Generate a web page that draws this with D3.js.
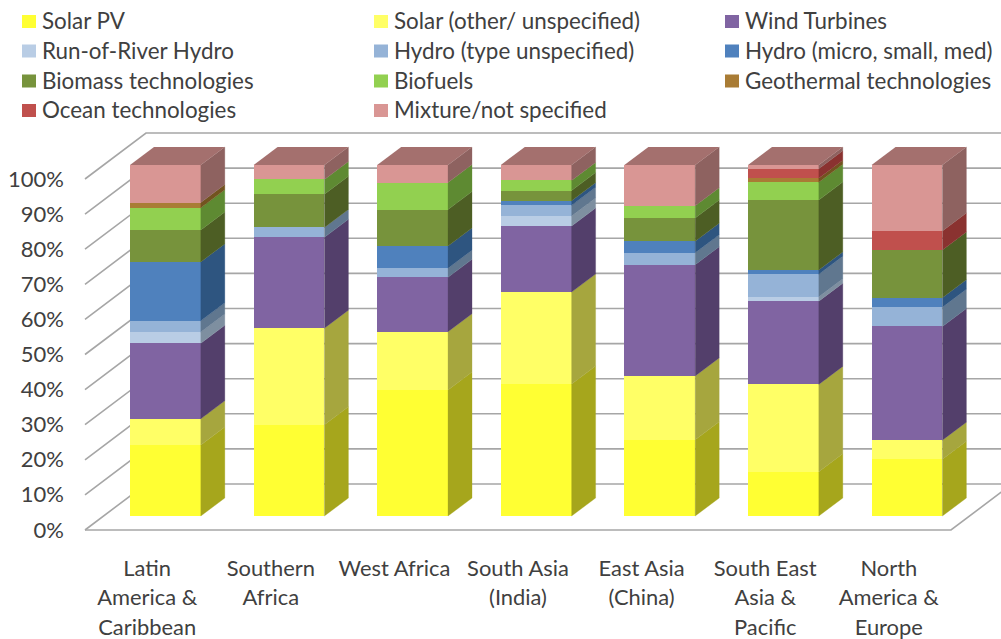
<!DOCTYPE html>
<html>
<head>
<meta charset="utf-8">
<script src="https://cdn.jsdelivr.net/npm/d3@7/dist/d3.min.js"></script>
<style>
  html, body { margin: 0; padding: 0; background: #fff; }
  svg { display: block; }
  text { font-family: Lato, "Open Sans", sans-serif; fill: #404040; }
</style>
</head>
<body>
<svg id="chart" width="1001" height="639"></svg>
<script>
// Regions along the horizontal axis; each entry is one line of its label.
const regions = [
  ["Latin", "America &", "Caribbean"],
  ["Southern", "Africa"],
  ["West Africa"],
  ["South Asia", "(India)"],
  ["East Asia", "(China)"],
  ["South East", "Asia &", "Pacific"],
  ["North", "America &", "Europe"]
];

// Technology names, bottom of the stack first.
const technologies = [
  "Solar PV", "Solar (other/ unspecified)", "Wind Turbines",
  "Run-of-River Hydro", "Hydro (type unspecified)", "Hydro (micro, small, med)",
  "Biomass technologies", "Biofuels", "Geothermal technologies",
  "Ocean technologies", "Mixture/not specified"
];

// Share of each technology per region, in percent.
const solarPV      = [20.2, 26.0, 35.9, 37.6, 21.7, 12.6, 16.2];
const solarOther   = [ 7.5, 27.5, 16.6, 26.2, 18.2, 24.9,  5.4];
const wind         = [21.5, 25.9, 15.5, 18.8, 31.7, 23.7, 32.4];
const runOfRiver   = [ 3.2,  0.0,  0.0,  2.9,  0.0,  1.3,  0.0];
const hydroType    = [ 3.2,  2.8,  2.6,  3.0,  3.4,  6.4,  5.5];
const hydroMicro   = [16.8,  0.0,  6.3,  1.3,  3.3,  1.2,  2.7];
const biomass      = [ 9.1,  9.5, 10.4,  2.9,  6.6, 19.9, 13.6];
const biofuels     = [ 6.3,  4.2,  7.7,  2.9,  3.5,  5.1,  0.0];
const geothermal   = [ 1.5,  0.0,  0.0,  0.0,  0.0,  1.1,  0.0];
const ocean        = [ 0.0,  0.0,  0.0,  0.0,  0.0,  2.7,  5.4];
const mixture      = [10.7,  4.1,  5.0,  4.4, 11.6,  1.1, 18.8];
const seriesValues = [solarPV, solarOther, wind, runOfRiver, hydroType, hydroMicro,
                      biomass, biofuels, geothermal, ocean, mixture];

const percentTicks = d3.range(0, 101, 10);

// Front and side shades of each technology.
const frontColours = ["#ffff33", "#ffff66", "#8064a2", "#b9cde5", "#95b3d7", "#4f81bd",
                      "#77933c", "#92d050", "#a97c35", "#c0504d", "#d99694"];
const sideColours  = ["#a6a61c", "#a6a63e", "#533f6b", "#7e8fa0", "#60778f", "#2e5580",
                      "#4d5e24", "#5e8a32", "#72531f", "#8a3230", "#8e6260"];
const topColour = "#a4706e";
const gridColour = "#a6a6a6";

const svg = d3.select("#chart");

// Scales: bar fronts, the chart wall, and the front edge of the floor.
const x = d3.scaleBand().domain(d3.range(regions.length))
  .range([130, 942.4]).paddingInner(0.427).paddingOuter(0);
const y = d3.scaleLinear().domain([0, 100]).range([516, 165]);
const yWall = d3.scaleLinear().domain([0, 100]).range([484, 133]);
const yEdge = d3.scaleLinear().domain([0, 100]).range([530, 179]);

// Oblique offset of a bar's depth.
const depthX = 24, depthY = -18;
// Wall corner positions relative to the axis edge.
const edgeX = 85, wallX = 146;

// Back wall gridlines and the diagonal ticks leading to them.
const grid = svg.append("g").attr("fill", "none")
  .attr("stroke", gridColour).attr("stroke-width", 1.6);
percentTicks.forEach(t => {
  grid.append("path").attr("d", d3.line()([
    [edgeX, yEdge(t)], [wallX, yWall(t)], [1001, yWall(t)]
  ]));
});

// Floor front edge and its right-hand diagonal.
grid.append("path").attr("d", d3.line()([
  [edgeX, yEdge(0)], [951, yEdge(0)], [1012, yWall(0)]
]));

// Percent labels via an axis with its line and tick marks removed.
const axis = svg.append("g").attr("transform", "translate(64,0)")
  .call(d3.axisLeft(yEdge).tickValues(percentTicks).tickSize(0).tickPadding(0)
    .tickFormat(d => d + "%"));
axis.select(".domain").remove();
axis.selectAll("text").attr("font-size", 22)
  .style("font-family", 'Lato, "Open Sans", sans-serif').attr("fill", "#404040");

// Stacked columns.
const rows = regions.map((_, i) => seriesValues.map(s => s[i]));
const stacked = d3.stack().keys(d3.range(technologies.length))(rows);

const poly = d3.line();
regions.forEach((_, i) => {
  const g = svg.append("g");
  const x0 = x(i), x1 = x0 + x.bandwidth();
  stacked.forEach((layer, s) => {
    const [lo, hi] = layer[i];
    if (hi - lo <= 0) return;
    g.append("rect")
      .attr("x", x0).attr("y", y(hi))
      .attr("width", x.bandwidth()).attr("height", y(lo) - y(hi))
      .attr("fill", frontColours[s])
      .attr("shape-rendering", "crispEdges");
    g.append("path").attr("fill", sideColours[s])
      .attr("stroke", sideColours[s]).attr("stroke-width", 0.3)
      .attr("d", poly([
        [x1, y(lo)], [x1, y(hi)], [x1 + depthX, y(hi) + depthY], [x1 + depthX, y(lo) + depthY]
      ]) + "Z");
  });
  g.append("path").attr("fill", topColour).attr("d", poly([
    [x0, y(100)], [x1, y(100)], [x1 + depthX, y(100) + depthY], [x0 + depthX, y(100) + depthY]
  ]) + "Z");
});

// Region labels beneath the floor, set to the left of the bars they name.
const labelTop = 568, labelStep = 29.7, labelShift = -18.2;
regions.forEach((lines, i) => {
  const t = svg.append("text").attr("text-anchor", "middle").attr("font-size", 21.9);
  lines.forEach((line, k) => {
    t.append("tspan")
      .attr("x", x(i) + x.bandwidth() / 2 + labelShift)
      .attr("y", labelTop + k * labelStep)
      .attr("dy", "0.35em")
      .text(line);
  });
});

// Legend, three columns filled row by row.
const legendCols = [22, 374, 725];
const legendRows = [21.5, 51, 81, 110.5];
technologies.forEach((name, s) => {
  const cx = legendCols[s % 3], cy = legendRows[Math.floor(s / 3)];
  svg.append("rect").attr("x", cx).attr("y", cy - 6.5)
    .attr("width", 14).attr("height", 13).attr("fill", frontColours[s]);
  svg.append("text").attr("x", cx + 20).attr("y", cy).attr("dy", "0.35em")
    .attr("font-size", 22.4).text(name);
});
</script>
</body>
</html>
